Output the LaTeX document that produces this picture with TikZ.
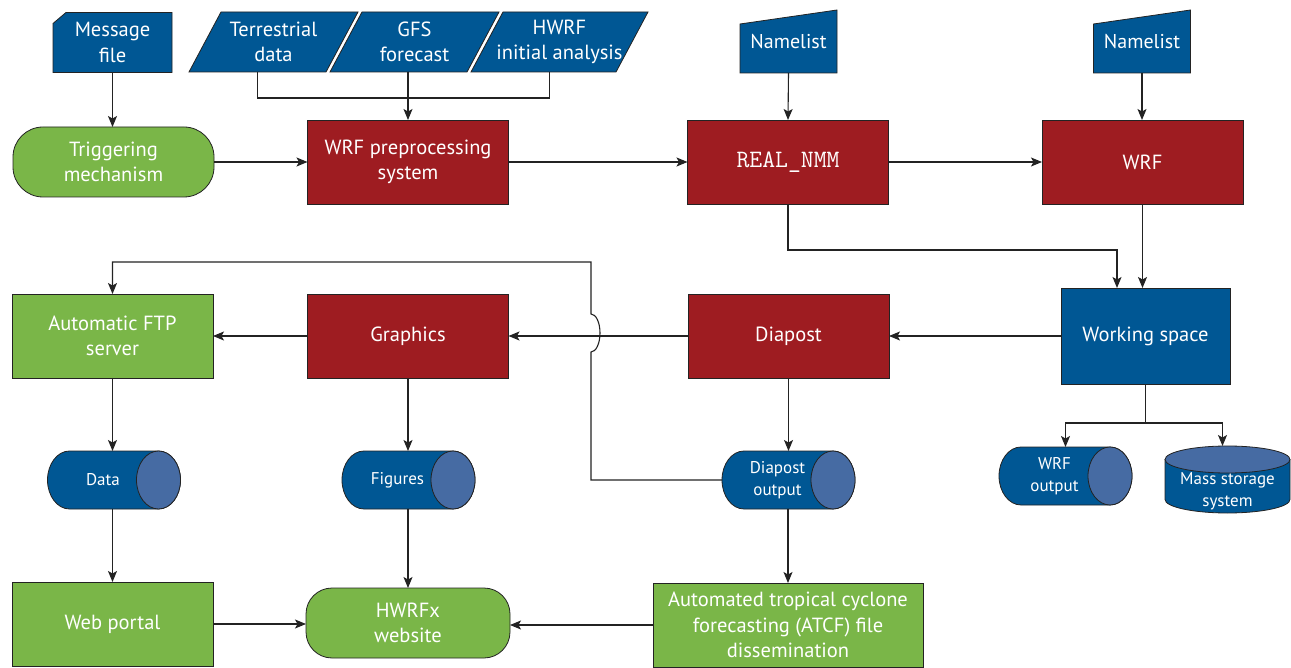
\documentclass[tikz,border=0pt]{standalone}
\usepackage{fontspec}
\setmainfont{PT Sans}
\usetikzlibrary{calc,backgrounds,arrows.meta}
\definecolor{hwrfblue}{RGB}{0,87,148}
\definecolor{hwrfred}{RGB}{158,28,33}
\definecolor{hwrfgreen}{RGB}{122,182,72}
\definecolor{hwrfface}{RGB}{70,107,163}
\definecolor{hwrfline}{RGB}{35,35,35}
\newcommand{\boxfont}{\fontsize{20.5}{25.5}\selectfont}
\newcommand{\drumfont}{\fontsize{17}{22}\selectfont}
\newcommand{\makedrum}[2]{
	\filldraw[drum] ($(#1.north west)+(#2,0)$) -- (#1.north east)
		arc[start angle=90, end angle=-90, x radius=#2, y radius=29pt]
		-- ($(#1.south west)+(#2,0)$)
		arc[start angle=270, end angle=90, x radius=#2, y radius=29pt] -- cycle;
	\filldraw[drum, fill=hwrfface] (#1.east) ellipse [x radius=#2, y radius=29pt];
}
\newcommand{\makepara}[2]{
	\filldraw[drum] (#1.south west) -- ($(#1.south east)+(-#2,0)$) -- (#1.north east) -- ($(#1.north west)+(#2,0)$) -- cycle;
}
\newcommand{\makeinput}[1]{
	\filldraw[drum] (#1.south west) -- (#1.south east) -- (#1.north east) -- ($(#1.north west)+(0,-14pt)$) -- cycle;
}

\begin{document}
\begin{tikzpicture}[x=1pt,y=-1pt,
	plain/.style={inner sep=0pt, outer sep=0pt, text=white, align=center, font=\boxfont},
	block/.style={plain, draw=hwrfline, line width=0.8pt, minimum width=201pt, minimum height=84pt},
	redblock/.style={block, fill=hwrfred},
	greenblock/.style={block, fill=hwrfgreen},
	pill/.style={greenblock, rounded corners=30pt, minimum height=70pt},
	drumnode/.style={plain, font=\drumfont, minimum width=111pt, minimum height=58pt},
	drum/.style={draw=hwrfline, line width=0.8pt, fill=hwrfblue},
	wire/.style={draw=hwrfline, line width=1.1pt},
	flow/.style={wire, -{Stealth[length=11pt,width=9pt,inset=2.5pt]}}]
	\useasboundingbox (0,0) rectangle (1291,668);

	\node[plain, minimum width=119pt, minimum height=60pt] (msg) at (112.5,42.5) {Message\\file};
	\node[plain, minimum width=169pt, minimum height=60pt] (ter) at (273.5,42) {Terrestrial\\data};
	\node[plain, minimum width=169pt, minimum height=60pt] (gfs) at (414.5,42) {GFS\\forecast};
	\node[plain, minimum width=177pt, minimum height=60pt] (hwrf) at (559.5,42) {HWRF\\initial analysis};
	\node[plain, font=\fontsize{20}{24}\selectfont, minimum width=97pt, minimum height=63pt] (nla) at (788.5,41.5) {Namelist};
	\node[plain, font=\fontsize{20}{24}\selectfont, minimum width=97pt, minimum height=63pt] (nlb) at (1142,41.5) {Namelist};

	\node[pill] (trig) at (113.5,162) {Triggering\\mechanism};
	\node[redblock] (prep) at (408,162) {WRF preprocessing\\system};
	\node[redblock, font=\ttfamily\fontsize{25}{28}\selectfont] (real) at (788,162) {REAL\_NMM};
	\node[redblock] (wrf) at (1142.5,162) {WRF};

	\node[block, fill=hwrfblue, minimum width=169pt, minimum height=96pt] (work) at (1145.5,336) {Working space};
	\node[redblock] (diapost) at (788.5,336) {Diapost};
	\node[redblock] (graphics) at (408,336) {Graphics};
	\node[greenblock] (ftp) at (112.5,336) {Automatic FTP\\server};

	\node[drumnode] (data) at (103,480) {Data};
	\node[drumnode] (figures) at (397.5,480) {Figures};
	\node[drumnode] (dpo) at (777.5,480) {Diapost\\output};
	\node[drumnode] (wo) at (1054.5,476) {WRF\\output};
	\node[plain, minimum width=125pt, minimum height=67pt] (mss) at (1227.5,479.5) {};
	\node[plain, font=\drumfont] (msslabel) at (1227.5,491) {Mass storage\\system};

	\node[greenblock] (web) at (112.5,624) {Web portal};
	\node[pill, rounded corners=26pt, minimum width=204pt] (hwrfx) at (408,623) {HWRFx\\website};
	\node[greenblock, minimum width=270pt] (atcf) at (788,625) {Automated tropical cyclone\\forecasting (ATCF) file\\dissemination};

	\begin{scope}[on background layer]
	\filldraw[drum] ($(msg.north west)+(0,-11pt)$) -- ($(msg.north west)+(13pt,0)$) -- (msg.north east) -- (msg.south east) -- (msg.south west) -- cycle;
	\makepara{ter}{32pt}
	\makepara{gfs}{32pt}
	\makepara{hwrf}{32pt}
	\makeinput{nla}
	\makeinput{nlb}
	\makedrum{data}{22pt}
	\makedrum{figures}{22pt}
	\makedrum{dpo}{22pt}
	\makedrum{wo}{22pt}
	\filldraw[drum] ($(mss.north west)+(0,-13.5pt)$) -- ($(mss.south west)+(0,13.5pt)$)
		arc[start angle=180, end angle=360, x radius=62.5pt, y radius=13.5pt]
		-- ($(mss.north east)+(0,-13.5pt)$) -- cycle;
	\filldraw[drum, fill=hwrfface] ($(mss.north)+(0,-13.5pt)$) ellipse [x radius=62.5pt, y radius=13.5pt];
	\end{scope}

	\coordinate (feed) at (408,98);
	\coordinate (realbend) at (1117,250);
	\coordinate (split) at (1145.5,423);
	\coordinate (hop) at (591,352);
	\coordinate (loop) at (591,262);

	\draw[flow] (msg.south) -- (msg.south |- trig.north);
	\draw[wire] ($(ter.south)+(-16pt,0)$) |- (feed) -| ($(hwrf.south)+(-10pt,0)$);
	\draw[flow] (feed |- gfs.south) -- (prep.north);
	\draw[flow] (trig.east) -- (prep.west);
	\draw[flow] (prep.east) -- (real.west);
	\draw[flow] (real.east) -- (wrf.west);
	\draw[flow] (nla.south) -- (real.north);
	\draw[flow] (nlb.south) -- (nlb.south |- wrf.north);
	\draw[flow] (real.south) |- (realbend) -- (realbend |- work.north);
	\draw[flow] (wrf.south) -- (wrf.south |- work.north);
	\draw[flow] (work.west) -- (diapost.east);
	\draw[flow] (diapost.west) -- (graphics.east);
	\draw[flow] (graphics.west) -- (ftp.east);
	\draw[wire] (work.south) -- (split);
	\draw[flow] (split) -| ($(wo.north)+(11pt,0)$);
	\draw[flow] (split) -| ($(mss.north)+(-5pt,0)$);
	\draw[flow] (ftp.south) -- (ftp.south |- data.north);
	\draw[flow] (graphics.south) -- (graphics.south |- figures.north);
	\draw[flow] (diapost.south) -- (diapost.south |- dpo.north);
	\draw[flow] (dpo.west) -| (hop) arc[start angle=-90, end angle=90, x radius=9pt, y radius=19pt] -- (loop) -| (ftp.north);
	\draw[flow] (web.north |- data.south) -- (web.north);
	\draw[flow] (hwrfx.north |- figures.south) -- (hwrfx.north);
	\draw[flow] (atcf.north |- dpo.south) -- (atcf.north);
	\draw[flow] (web.east) -- (web.east -| hwrfx.west);
	\draw[flow] (atcf.west) -- (atcf.west -| hwrfx.east);
\end{tikzpicture}
\end{document}
